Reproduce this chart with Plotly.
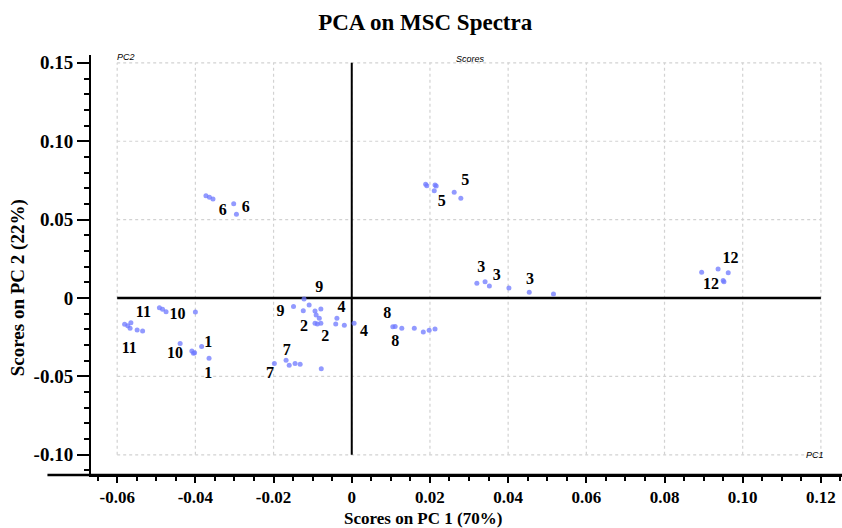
import plotly.graph_objects as go

# ---- data (PC1, PC2 scores) ----
pc1 = [
    -0.0373, -0.0364, -0.0355, -0.0302, -0.0295,            # 6
    -0.0581, -0.0573, -0.0565, -0.0567, -0.0549, -0.0535,   # 11
    -0.0492, -0.0484, -0.0475,                              # 11/10
    -0.0400, -0.0439, -0.0409, -0.0402, -0.0405,            # 10
    -0.0384, -0.0365,                                       # 1
    -0.0122, -0.0149, -0.0124, -0.0109,                     # 9
    -0.0094, -0.0079, -0.0091, -0.0083, -0.0094, -0.0088, -0.0079,  # 2
    -0.0038, -0.0041, -0.0019, 0.0006,                      # 4
    -0.0198, -0.0168, -0.0160, -0.0145, -0.0132, -0.0078,   # 7
    0.0189, 0.0192, 0.0213, 0.0216, 0.0211, 0.0262, 0.0279, # 5
    0.0320, 0.0341, 0.0352, 0.0402, 0.0454, 0.0516,         # 3
    0.0105, 0.0111, 0.0128, 0.0160, 0.0183, 0.0198, 0.0213, # 8
    0.0895, 0.0937, 0.0963, 0.0952, 0.0950,                 # 12
]
pc2 = [
    0.0652, 0.0642, 0.0631, 0.0601, 0.0534,
    -0.0168, -0.0177, -0.0158, -0.0193, -0.0204, -0.0210,
    -0.0062, -0.0072, -0.0087,
    -0.0089, -0.0291, -0.0338, -0.0349, -0.0353,
    -0.0310, -0.0385,
    -0.0006, -0.0055, -0.0081, -0.0045,
    -0.0083, -0.0070, -0.0108, -0.0129, -0.0161, -0.0166, -0.0161,
    -0.0129, -0.0166, -0.0174, -0.0161,
    -0.0417, -0.0397, -0.0429, -0.0417, -0.0423, -0.0451,
    0.0725, 0.0716, 0.0721, 0.0714, 0.0684, 0.0674, 0.0636,
    0.0094, 0.0104, 0.0077, 0.0064, 0.0036, 0.0026,
    -0.0183, -0.0181, -0.0193, -0.0193, -0.0217, -0.0206, -0.0198,
    0.0164, 0.0185, 0.0161, 0.0104, 0.0112,
]

label_text = ["6", "6", "11", "11", "10", "10", "1", "1", "9", "9", "4", "4",
              "2", "2", "7", "7", "5", "5", "3", "3", "3", "8", "8", "12", "12"]
label_x = [-0.0330, -0.0271, -0.0533, -0.0569, -0.0446, -0.0452, -0.0367, -0.0367,
           -0.0083, -0.0182, -0.0026, 0.0031, -0.0122, -0.0068, -0.0166, -0.0209,
           0.0290, 0.0230, 0.0331, 0.0371, 0.0456, 0.0091, 0.0111, 0.0969, 0.0919]
label_y = [0.0555, 0.0576, -0.0098, -0.0327, -0.0108, -0.0359, -0.0285, -0.0485,
           0.0066, -0.0087, -0.0066, -0.0215, -0.0183, -0.0247, -0.0336, -0.0487,
           0.0748, 0.0610, 0.0189, 0.0142, 0.0115, -0.0102, -0.0279, 0.0247, 0.0083]

x_ticks = [-0.06, -0.04, -0.02, 0, 0.02, 0.04, 0.06, 0.08, 0.10, 0.12]
x_tick_text = ["-0.06", "-0.04", "-0.02", "0", "0.02", "0.04", "0.06", "0.08", "0.10", "0.12"]
y_ticks = [-0.10, -0.05, 0, 0.05, 0.10, 0.15]
y_tick_text = ["-0.10", "-0.05", "0", "0.05", "0.10", "0.15"]

SERIF = "Liberation Serif, Times New Roman, serif"
SANS = "Liberation Sans, Arial, sans-serif"

fig = go.Figure()
fig.add_trace(go.Scatter(
    x=pc1, y=pc2, mode="markers",
    marker=dict(size=5, color="rgba(110,120,255,0.75)", line=dict(width=0)),
    hoverinfo="skip", showlegend=False))
fig.add_trace(go.Scatter(
    x=label_x, y=label_y, mode="text", text=label_text,
    textfont=dict(family=SERIF, size=16, color="black", weight="bold"),
    hoverinfo="skip", showlegend=False))

shapes = []
xmin, xmax = x_ticks[0], x_ticks[-1]
ymin, ymax = y_ticks[0], y_ticks[-1]
grid = dict(color="#d2d2d2", width=1.2, dash="dot")
for xv in x_ticks:
    shapes.append(dict(type="line", xref="x", yref="y", x0=xv, x1=xv, y0=ymin, y1=ymax,
                       line=grid, layer="below"))
for yv in y_ticks:
    shapes.append(dict(type="line", xref="x", yref="y", x0=xmin, x1=xmax, y0=yv, y1=yv,
                       line=grid, layer="below"))
# zero cross-hair
shapes.append(dict(type="line", xref="x", yref="y", x0=xmin, x1=xmax, y0=0, y1=0,
                   line=dict(color="black", width=2.5), layer="below"))
shapes.append(dict(type="line", xref="x", yref="y", x0=0, x1=0, y0=ymin, y1=ymax,
                   line=dict(color="black", width=2), layer="below"))
# x axis line extending left past the y axis
shapes.append(dict(type="line", xref="paper", yref="paper", x0=-0.058, x1=1, y0=0, y1=0,
                   line=dict(color="black", width=2.5)))

fig.update_layout(
    width=842, height=528,
    margin=dict(l=91, r=0, t=55, b=53),
    paper_bgcolor="white", plot_bgcolor="white",
    font=dict(family=SERIF, color="black"),
    title=dict(text="<b>PCA on MSC Spectra</b>", x=0.505, xanchor="center", y=0.958, yanchor="middle",
               font=dict(family=SERIF, size=23, color="black")),
    shapes=shapes,
    xaxis=dict(range=[-0.0667, 0.1254], tickmode="array", tickvals=x_ticks,
               ticktext=["<b>%s</b>" % t for t in x_tick_text],
               showgrid=False, zeroline=False, showline=True, linecolor="black", linewidth=2,
               ticks="outside", ticklen=6, tickwidth=2, tickcolor="black",
               minor=dict(dtick=0.005, tick0=0, ticks="outside", ticklen=4, tickwidth=1.5, tickcolor="black", showgrid=False),
               tickfont=dict(family=SERIF, size=17, color="black")),
    yaxis=dict(range=[-0.1129, 0.155], tickmode="array", tickvals=y_ticks,
               ticktext=["<b>%s</b>" % t for t in y_tick_text],
               showgrid=False, zeroline=False, showline=True, linecolor="black", linewidth=2,
               ticks="outside", ticklen=12, tickwidth=2, tickcolor="black",
               minor=dict(dtick=0.01, tick0=0, ticks="outside", ticklen=5, tickwidth=2, tickcolor="black", showgrid=False),
               tickfont=dict(family=SERIF, size=19, color="black")),
    annotations=[
        dict(text="<b>Scores on PC 1 (70%)</b>", xref="paper", yref="paper", x=0.442, y=-0.103,
             xanchor="center", yanchor="middle", showarrow=False,
             font=dict(family=SERIF, size=17, color="black")),
        dict(text="<b>Scores on PC 2 (22%)</b>", xref="paper", yref="paper", x=-0.097, y=0.445,
             xanchor="center", yanchor="middle", showarrow=False, textangle=-90,
             font=dict(family=SERIF, size=19, color="black")),
        dict(text="PC2", xref="paper", yref="paper", x=0.032, y=1.012, showarrow=False,
             font=dict(family=SANS, size=9, color="black", style="italic")),
        dict(text="Scores", xref="paper", yref="paper", x=0.505, y=1.007, showarrow=False,
             font=dict(family=SANS, size=9, color="black", style="italic")),
        dict(text="PC1", xref="paper", yref="paper", x=0.979, y=0.031, showarrow=False,
             font=dict(family=SANS, size=9, color="black", style="italic")),
    ],
)

fig.write_html("out.html")
